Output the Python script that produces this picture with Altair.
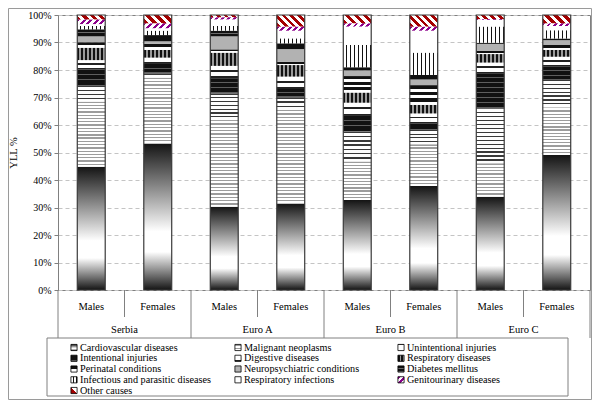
import math
import altair as alt
import pandas as pd

SERIF = "Liberation Serif, Times New Roman, serif"

groups = ["Serbia", "Euro A", "Euro B", "Euro C"]
sexes = ["Males", "Females"]
causes = [
    "Cardiovascular diseases", "Malignant neoplasms", "Unintentional injuries",
    "Intentional injuries", "Digestive diseases", "Respiratory diseases",
    "Perinatal conditions", "Neuropsychiatric conditions", "Diabetes mellitus",
    "Infectious and parasitic diseases", "Respiratory infections",
    "Genitourinary diseases", "Other causes",
]

# YLL % per bar: Serbia M, Serbia F, Euro A M, Euro A F, Euro B M, Euro B F, Euro C M, Euro C F
cardiovascular = [44.8, 53.3, 30.3, 31.5, 32.7, 37.8, 33.9, 49.1]
malignant = [23.7, 23.9, 31.5, 34.0, 14.0, 15.2, 12.2, 17.4]
unintentional = [5.7, 1.6, 9.7, 4.6, 10.9, 5.2, 20.0, 9.9]
intentional = [6.0, 3.4, 5.5, 3.0, 5.7, 2.4, 12.7, 4.8]
digestive = [3.4, 2.3, 4.5, 4.5, 4.8, 3.6, 3.9, 3.6]
respiratory = [4.5, 2.8, 4.8, 4.2, 3.7, 3.1, 3.1, 2.5]
perinatal = [2.0, 2.2, 1.2, 1.2, 6.0, 7.2, 1.2, 1.8]
neuropsychiatric = [2.0, 0.8, 4.6, 4.5, 1.9, 1.9, 2.5, 1.6]
diabetes = [2.7, 2.4, 2.2, 2.2, 1.3, 1.8, 0.4, 0.8]
infectious = [1.2, 1.6, 1.7, 1.8, 8.1, 8.1, 5.9, 3.0]
resp_infections = [0.7, 0.9, 2.4, 2.8, 6.7, 8.0, 2.4, 1.5]
genitourinary = [1.7, 1.8, 0.8, 1.5, 1.2, 1.5, 0.3, 1.0]
other_causes = [1.6, 3.0, 0.8, 4.2, 3.0, 4.2, 1.5, 3.0]

y_ticks = [0, 10, 20, 30, 40, 50, 60, 70, 80, 90, 100]

series_list = [cardiovascular, malignant, unintentional, intentional, digestive,
               respiratory, perinatal, neuropsychiatric, diabetes, infectious,
               resp_infections, genitourinary, other_causes]

W, H = 532, 275
NB = 8
BAR_FRAC = 0.42
BAR_W = BAR_FRAC * W / NB


def _grad(stops, x1, y1, x2, y2):
    return alt.LinearGradient(
        gradient="linear",
        stops=[alt.GradientStop(offset=max(0.0, min(1.0, round(o, 5))), color=c) for o, c in stops],
        x1=x1, y1=y1, x2=x2, y2=y2,
    )


def _stripe_stops(ca, cb, n, frac):
    st = []
    for k in range(n):
        o0, o1, o2 = k / n, (k + frac) / n, (k + 1) / n
        st += [(o0, ca), (o1, ca), (o1, cb), (o2, cb)]
    return st


def hstripes(ca, cb, h, period, frac):
    n = max(1, round(h / period))
    return _grad(_stripe_stops(ca, cb, n, frac), 0, 0, 0, 1)


def vstripes(ca, cb, w, period, frac):
    n = max(1, round(w / period))
    return _grad(_stripe_stops(ca, cb, n, frac), 0, 0, 1, 0)


def dstripes(ca, cb, w, h, period, frac, back):
    n = max(1, round((w + h) / (math.sqrt(2) * period)))
    t = (w + h) / (w * w + h * h)
    if back:  # "\" stripes
        return _grad(_stripe_stops(ca, cb, n, frac), 0, 1, t * w, 1 - t * h)
    return _grad(_stripe_stops(ca, cb, n, frac), 0, 0, t * w, t * h)


def cause_fill(c, w, h):
    if c == 0:
        return _grad([(0, "#141414"), (0.6, "#ffffff"), (0.74, "#ffffff"), (1, "#141414")], 0, 0, 0, 1)
    if c == 1:
        return hstripes("#9c9c9c", "#ffffff", h, 3.3, 0.4)
    if c == 2:
        return hstripes("#3a3a3a", "#ffffff", h, 4.0, 0.32)
    if c == 3:
        return hstripes("#111111", "#5e5e5e", h, 5.0, 0.8)
    if c == 4:
        return hstripes("#ffffff", "#222222", h, 6.0, 0.7)
    if c == 5:
        return vstripes("#111111", "#9a9a9a", w, 4.0, 0.55)
    if c == 6:
        return hstripes("#111111", "#ffffff", h, 6.0, 0.55)
    if c == 7:
        return "#b2b2b2"
    if c == 8:
        return hstripes("#111111", "#6a6a6a", h, 4.0, 0.8)
    if c == 9:
        return vstripes("#ffffff", "#111111", w, 4.0, 0.7)
    if c == 10:
        return "#ffffff"
    if c == 11:
        return dstripes("#8b008b", "#ffffff", w, h, 4.5, 0.45, back=False)
    return dstripes("#a50000", "#ffffff", w, h, 6.0, 0.5, back=True)


rows = []
for b in range(NB):
    acc = 0.0
    for c, series in enumerate(series_list):
        v = series[b]
        rows.append(dict(id=b * 13 + c, bar=b, cause=causes[c], value=v,
                         y0=acc, y1=acc + v,
                         x0=b + 0.5 - BAR_FRAC / 2, x1=b + 0.5 + BAR_FRAC / 2))
        acc += v
df = pd.DataFrame(rows)

xscale = alt.Scale(domain=[0, NB], nice=False, zero=False)
yscale = alt.Scale(domain=[0, 100], nice=False, zero=False)
yaxis = alt.Axis(values=y_ticks, labelExpr="datum.value + '%'", title="YLL %",
                 grid=True, gridDash=[4, 3], gridColor="#c4c4c4",
                 tickSize=4, tickColor="#808080", domainColor="#808080",
                 labelFont=SERIF, labelFontSize=10, labelColor="black", labelPadding=3,
                 titleFont=SERIF, titleFontSize=10.5, titleFontWeight="normal",
                 titleColor="black", titleX=-40, titleY=H / 2, titleAlign="center")


def px_to_x(px):
    return px * NB / W


def px_to_y(py):
    return (H - py) * 100 / H


layers = []
for r in df.itertuples():
    h = r.value * H / 100
    layers.append(
        alt.Chart().mark_bar(fill=cause_fill(r.id % 13, BAR_W, h))
        .encode(x=alt.X("x0:Q", scale=xscale, axis=None), x2="x1:Q",
                y=alt.Y("y0:Q", scale=yscale, axis=yaxis), y2="y1:Q")
        .transform_filter(alt.datum.id == r.id)
    )

# bar outlines
bars_df = pd.DataFrame({"x0": [b + 0.5 - BAR_FRAC / 2 for b in range(NB)],
                        "x1": [b + 0.5 + BAR_FRAC / 2 for b in range(NB)],
                        "y0": [0] * NB, "y1": [100] * NB})
layers.append(
    alt.Chart(bars_df).mark_bar(filled=False, color="#3a3a3a", strokeWidth=1.2)
    .encode(x=alt.X("x0:Q", scale=xscale, axis=None), x2="x1:Q",
            y=alt.Y("y0:Q", scale=yscale, axis=yaxis), y2="y1:Q")
)

# category separators
sep_df = pd.DataFrame({"k": list(range(NB + 1)), "long": [k % 2 == 0 for k in range(NB + 1)]})
layers.append(
    alt.Chart(sep_df).mark_rule(color="#808080", strokeWidth=1)
    .encode(x=alt.X("k:Q", scale=xscale, axis=None), y=alt.value(H), y2=alt.value(H + 27))
    .transform_filter("!datum.long")
)
layers.append(
    alt.Chart(sep_df).mark_rule(color="#808080", strokeWidth=1)
    .encode(x=alt.X("k:Q", scale=xscale, axis=None), y=alt.value(H), y2=alt.value(H + 48))
    .transform_filter("datum.long")
)

# x labels
sex_df = pd.DataFrame({"xc": [b + 0.5 for b in range(NB)], "label": [sexes[b % 2] for b in range(NB)]})
layers.append(
    alt.Chart(sex_df).mark_text(font=SERIF, fontSize=10.5, baseline="middle", color="black")
    .encode(x=alt.X("xc:Q", scale=xscale, axis=None), y=alt.value(H + 17), text="label:N")
)
grp_df = pd.DataFrame({"xc": [2 * g + 1 for g in range(4)], "label": groups})
layers.append(
    alt.Chart(grp_df).mark_text(font=SERIF, fontSize=10.5, baseline="middle", color="black")
    .encode(x=alt.X("xc:Q", scale=xscale, axis=None), y=alt.value(H + 40), text="label:N")
)

# legend
one = pd.DataFrame({"a": [0]})
layers.append(
    alt.Chart(one).mark_rect(filled=False, color="#808080", strokeWidth=1)
    .encode(x=alt.value(-11), x2=alt.value(510), y=alt.value(323), y2=alt.value(381))
)
col_icon = [16, 180, 343]
row_y = [332.5, 343.3, 354.0, 364.8, 375.5]
leg_df = pd.DataFrame({
    "c": list(range(13)),
    "cause": causes,
    "ix": [px_to_x(col_icon[i % 3]) for i in range(13)],
    "tx": [px_to_x(col_icon[i % 3] + 6) for i in range(13)],
    "ly": [px_to_y(row_y[i // 3]) for i in range(13)],
})
for c in range(13):
    layers.append(
        alt.Chart(leg_df).mark_square(size=38, fill=cause_fill(c, 6, 6), stroke="black",
                                      strokeWidth=0.8, opacity=1)
        .encode(x=alt.X("ix:Q", scale=xscale, axis=None), y=alt.Y("ly:Q", scale=yscale, axis=yaxis))
        .transform_filter(alt.datum.c == c)
    )
layers.append(
    alt.Chart(leg_df).mark_text(font=SERIF, fontSize=10.2, align="left", baseline="middle", color="black")
    .encode(x=alt.X("tx:Q", scale=xscale, axis=None), y=alt.Y("ly:Q", scale=yscale, axis=yaxis),
            text="cause:N")
)

# outer frame
layers.append(
    alt.Chart(one).mark_rect(filled=False, color="#9a9a9a", strokeWidth=1)
    .encode(x=alt.value(-49.5), x2=alt.value(W + 1.5), y=alt.value(-6.5), y2=alt.value(384.5))
)

chart = alt.layer(*layers, data=df).properties(
    width=W, height=H,
    padding={"left": 50, "top": 7, "right": 2, "bottom": 110},
    autosize=alt.AutoSizeParams(type="none"),
).configure_view(stroke="#808080", strokeWidth=1)

chart.save("out.html", embed_options={"renderer": "svg", "actions": False})
